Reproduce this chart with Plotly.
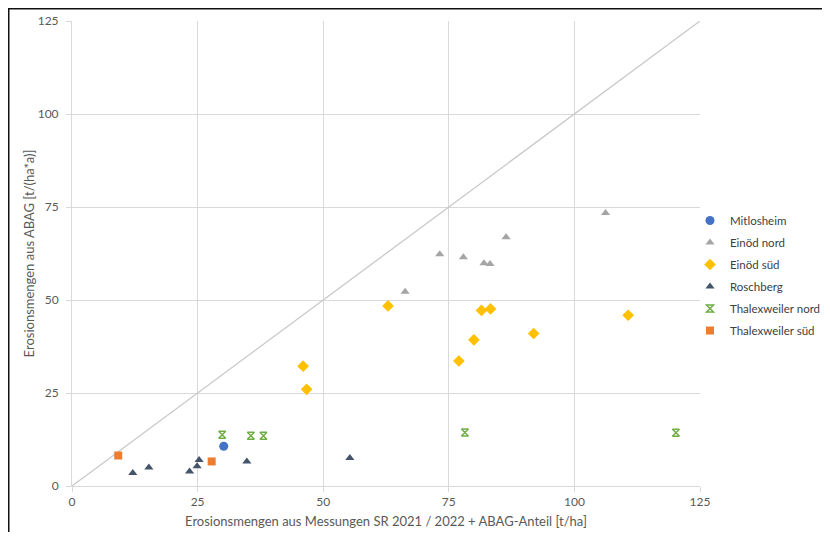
import plotly.graph_objects as go

# ---- data ----
mit_x = [30.2]
mit_y = [10.7]

en_x = [66.3, 73.2, 77.9, 82.0, 83.2, 86.4, 106.2]
en_y = [52.2, 62.3, 61.5, 59.9, 59.7, 66.9, 73.4]

es_x = [46.0, 46.7, 62.9, 77.0, 80.0, 81.5, 83.3, 91.9, 110.7]
es_y = [32.2, 26.0, 48.4, 33.6, 39.3, 47.2, 47.6, 41.0, 45.9]

ro_x = [12.1, 15.3, 23.4, 24.9, 25.3, 34.8, 55.3]
ro_y = [3.5, 5.0, 3.9, 5.3, 7.0, 6.6, 7.5]

tn_x = [29.9, 35.6, 38.1, 78.2, 120.2]
tn_y = [13.8, 13.5, 13.5, 14.4, 14.3]

ts_x = [9.2, 27.8]
ts_y = [8.2, 6.6]

diag = [0, 125]
ticks = [0, 25, 50, 75, 100, 125]

FONT = "Lato"
TXT = "#595959"

fig = go.Figure()

fig.add_trace(go.Scatter(x=diag, y=diag, mode="lines",
                         line=dict(color="#C8C8C8", width=1.3),
                         showlegend=False, hoverinfo="skip"))

series = [
    ("Mitlosheim", mit_x, mit_y, dict(symbol="circle", size=9, color="#4472C4")),
    ("Einöd nord", en_x, en_y, dict(symbol="triangle-up", size=8, color="#A5A5A5")),
    ("Einöd süd", es_x, es_y, dict(symbol="diamond", size=9, color="#FFC000")),
    ("Roschberg", ro_x, ro_y, dict(symbol="triangle-up", size=8, color="#44546A")),
    ("Thalexweiler nord", tn_x, tn_y, dict(symbol="hourglass-open", size=7, color="#70AD47",
                                           line=dict(width=1.5, color="#70AD47"))),
    ("Thalexweiler süd", ts_x, ts_y, dict(symbol="square", size=8, color="#ED7D31")),
]
for name, xs, ys, mk in series:
    fig.add_trace(go.Scatter(x=xs, y=ys, mode="markers", name=name,
                             marker=mk, legendgroup=name))

axis_common = dict(
    range=[0, 125], tickvals=ticks, showgrid=True, gridcolor="#D9D9D9", gridwidth=1,
    zeroline=False, showline=True, linecolor="#D9D9D9", linewidth=1,
    ticks="outside", ticklen=5, tickcolor="#D9D9D9", automargin=False,
    tickfont=dict(family=FONT, size=12, color=TXT),
)

fig.update_xaxes(**axis_common,
                 title=dict(text="Erosionsmengen aus Messungen SR 2021 / 2022 + ABAG-Anteil [t/ha]",
                            font=dict(family=FONT, size=13, color=TXT), standoff=8))
fig.update_yaxes(**axis_common, ticklabelstandoff=5,
                 title=dict(text="Erosionsmengen aus ABAG [t/(ha*a)]",
                            font=dict(family=FONT, size=13, color=TXT), standoff=0))

# the page shows the figure 8 px in from the window's top-left corner
OFF = 8
W, H = 830 - 2 * OFF, 540 - 2 * OFF
L, R, T, B = 72 - OFF, W - (700 - OFF), 21 - OFF, H - (486 - OFF)
pw, ph = W - L - R, H - T - B

def px_x(p):
    return (p - L) / pw

def px_y(p):
    return (H - B - p) / ph

fig.update_layout(
    width=W, height=H,
    margin=dict(l=L, r=R, t=T, b=B, autoexpand=False),
    paper_bgcolor="white", plot_bgcolor="white",
    font=dict(family=FONT, color=TXT),
    legend=dict(xref="container", yref="container",
                x=(690 - OFF) / W, y=1 - (206 - OFF) / H, xanchor="left", yanchor="top",
                font=dict(family=FONT, size=11.5, color="#404040"),
                tracegroupgap=3, itemwidth=30, bgcolor="rgba(0,0,0,0)"),
    shapes=[
        dict(type="line", xref="paper", yref="paper",
             x0=px_x(0), x1=px_x(W), y0=px_y(0.5), y1=px_y(0.5),
             line=dict(color="#111111", width=2)),
        dict(type="line", xref="paper", yref="paper",
             x0=px_x(0.5), x1=px_x(0.5), y0=px_y(0), y1=px_y(H),
             line=dict(color="#111111", width=2)),
    ],
)

fig.write_html("out.html")
